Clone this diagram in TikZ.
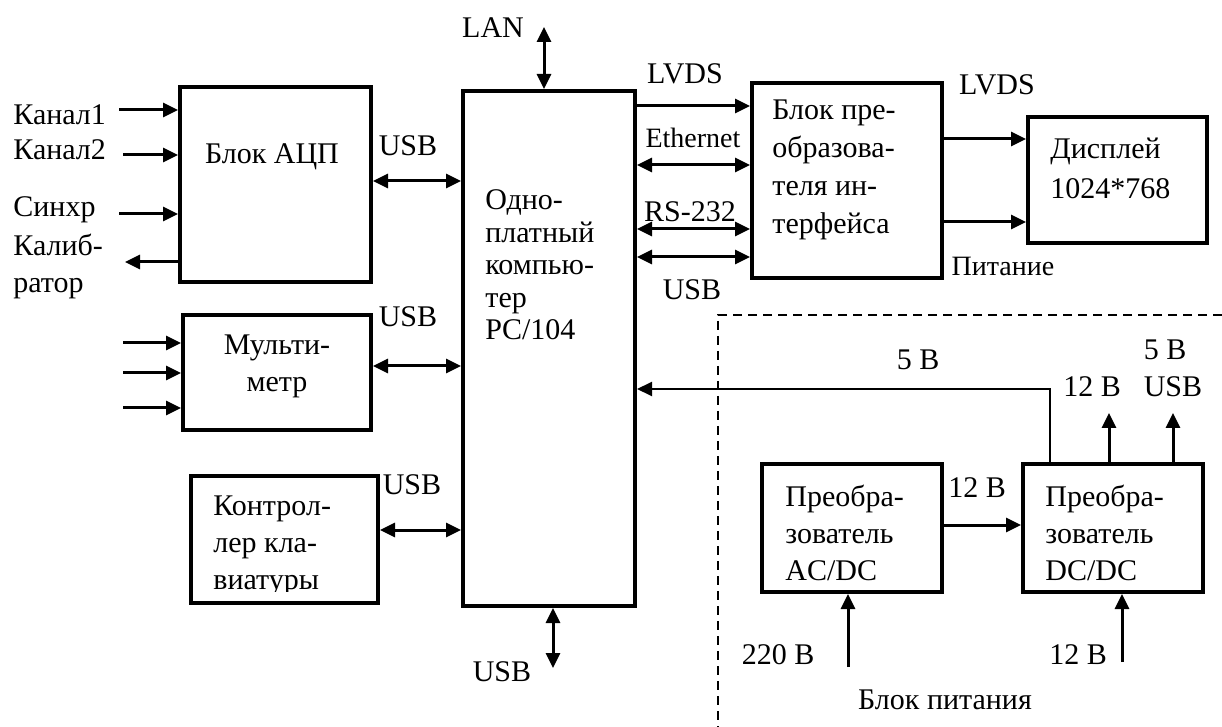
\documentclass[tikz,border=0pt]{standalone}
\usepackage{fontspec}
\setmainfont{LiberationSerif}[Extension=.ttf, UprightFont=*-Regular, BoldFont=*-Bold]
\usetikzlibrary{arrows.meta}
\usetikzlibrary{fit}
\tikzset{block/.style={draw, line width=2pt, inner sep=0pt}}
\tikzset{lbl/.style={inner sep=0pt, font=\fontsize{15}{18.5}\selectfont}}
\tikzset{sml/.style={inner sep=0pt, font=\fontsize{14}{17}\selectfont}}
\tikzset{arr/.style={line width=1.5pt, -{Triangle[length=7.5pt,width=7pt]}}}
\tikzset{darr/.style={line width=1.5pt, {Triangle[length=7.5pt,width=7pt]}-{Triangle[length=7.5pt,width=7pt]}}}

\begin{document}
\begin{tikzpicture}[x=0.5pt,y=-0.5pt]
  \useasboundingbox (0,0) rectangle (1222,727);
  % blocks
  \foreach \name/\xa/\ya/\xb/\yb in {
    adc/180/87/371/282,
    mm/183/315/371/430,
    kbd/191/476/378/603,
    pc/463/91/635/606,
    conv/752/83/942/278,
    disp/1028/117/1207/243,
    acdc/762/464/942/592,
    dcdc/1023/464/1203/592%
  } {
    \node[block, fit={(\xa,\ya) (\xb,\yb)}] (\name) {};
  }
  \node[lbl] (adctxt) at (272,157) {Блок АЦП};
  \node[lbl, align=center] (mmtxt) at (277,366) {Мульти-\\метр};
  % last line of the keyboard block is cut at its baseline
  \begin{scope}
    \clip (kbd.north west) rectangle (kbd.east |- 0,591);
    \node[lbl, align=left, anchor=west] (kbdtxt) at (213,546) {Контрол-\\лер кла-\\виатуры};
  \end{scope}
  \node[lbl, align=left, anchor=west, font=\fontsize{15}{16.25}\selectfont] (pctxt) at (485,265) {Одно-\\платный\\компью-\\тер\\PC/104};
  \node[lbl, align=left, anchor=west, font=\fontsize{15}{19}\selectfont] (convtxt) at (772,170) {Блок пре-\\образова-\\теля ин-\\терфейса};
  \node[lbl, align=left, anchor=west, font=\fontsize{15}{20}\selectfont] (disptxt) at (1050,168) {Дисплей\\1024*768};
  \node[lbl, align=left, anchor=west] (acdctxt) at (785,533) {Преобра-\\зователь\\AC/DC};
  \node[lbl, align=left, anchor=west] (dcdctxt) at (1045,533) {Преобра-\\зователь\\DC/DC};

  % inputs of the ADC and the multimeter
  \coordinate (k1) at (119,110);
  \coordinate (k2) at (123,155);
  \coordinate (sy) at (119,214);
  \coordinate (cal) at (125,262);
  \draw[arr] (k1) -- (adc.west |- k1);
  \draw[arr] (k2) -- (adc.west |- k2);
  \draw[arr] (sy) -- (adc.west |- sy);
  \draw[arr] (adc.west |- cal) -- (cal);
  \node[lbl, anchor=west] (k1lbl) at (13,115) {Канал1};
  \node[lbl, anchor=west] (k2lbl) at (13,150) {Канал2};
  \node[lbl, anchor=west] (sylbl) at (13,210) {Синхр};
  \node[lbl, anchor=west, align=left] (callbl) at (13,266) {Калиб-\\ратор};
  \foreach \n/\y in {m1/343, m2/373, m3/408} {
    \coordinate (\n) at (123,\y);
    \draw[arr] (\n) -- (mm.west |- \n);
  }

  % buses of the computer
  \draw[darr] (adc.east |- 0,181) -- (pc.west |- 0,181);
  \draw[darr] (mm.east |- 0,366) -- (pc.west |- 0,366);
  \draw[darr] (kbd.east |- 0,530) -- (pc.west |- 0,530);
  \node[lbl] (usb1) at (408,146) {USB};
  \node[lbl] (usb2) at (408,317) {USB};
  \node[lbl] (usb3) at (412,485) {USB};
  \foreach \y/\tip in {106/arr, 165/darr, 229/darr, 257/darr} {
    \draw[\tip] (pc.east |- 0,\y) -- (conv.west |- 0,\y);
  }
  \node[lbl] (lvds1) at (685,74) {LVDS};
  \node[sml] (eth) at (693,138) {Ethernet};
  \node[lbl] (rs) at (690,212) {RS-232};
  \node[lbl] (usb4) at (692,290) {USB};
  \coordinate (lan) at (544,27);
  \draw[darr] (pc.north -| lan) -- (lan);
  \node[lbl] (lanlbl) at (493,28) {LAN};
  \coordinate (usbo) at (553,668);
  \draw[darr] (pc.south -| usbo) -- (usbo);
  \node[lbl] (usb5) at (502,672) {USB};

  % display
  \draw[arr] (conv.east |- 0,139) -- (disp.west |- 0,139);
  \draw[arr] (conv.east |- 0,222) -- (disp.west |- 0,222);
  \node[lbl] (lvds2) at (997,85) {LVDS};
  \node[sml] (pit) at (1003,266) {Питание};

  % power supply
  \draw[line width=1pt, dash pattern=on 4.5pt off 3pt] (1222,315) -- (718,315) -- (718,727);
  \coordinate (tap) at (1050,389);
  \draw[line width=1pt, -{Triangle[length=7.5pt,width=7pt]}] (dcdc.north -| tap) -- (tap) -- (pc.east |- tap);
  \node[lbl] (v5) at (918,360) {5 В};
  \draw[arr] (acdc.east |- 0,525) -- (dcdc.west |- 0,525);
  \node[lbl] (v12a) at (977,488) {12 В};
  \coordinate (o12) at (1109,413);
  \coordinate (o5) at (1173,413);
  \draw[arr] (dcdc.north -| o12) -- (o12);
  \draw[arr] (dcdc.north -| o5) -- (o5);
  \node[lbl] (v12b) at (1092,387) {12 В};
  \node[lbl] (v5b) at (1165,350) {5 В};
  \node[lbl] (usb6) at (1173,387) {USB};
  \coordinate (i220) at (848,667);
  \coordinate (i12) at (1122,662);
  \draw[arr] (i220) -- (acdc.south -| i220);
  \draw[arr] (i12) -- (dcdc.south -| i12);
  \node[lbl] (v220) at (778,655) {220 В};
  \node[lbl] (v12c) at (1078,655) {12 В};
  \node[lbl] (psu) at (945,700) {Блок питания};
\end{tikzpicture}
\end{document}
